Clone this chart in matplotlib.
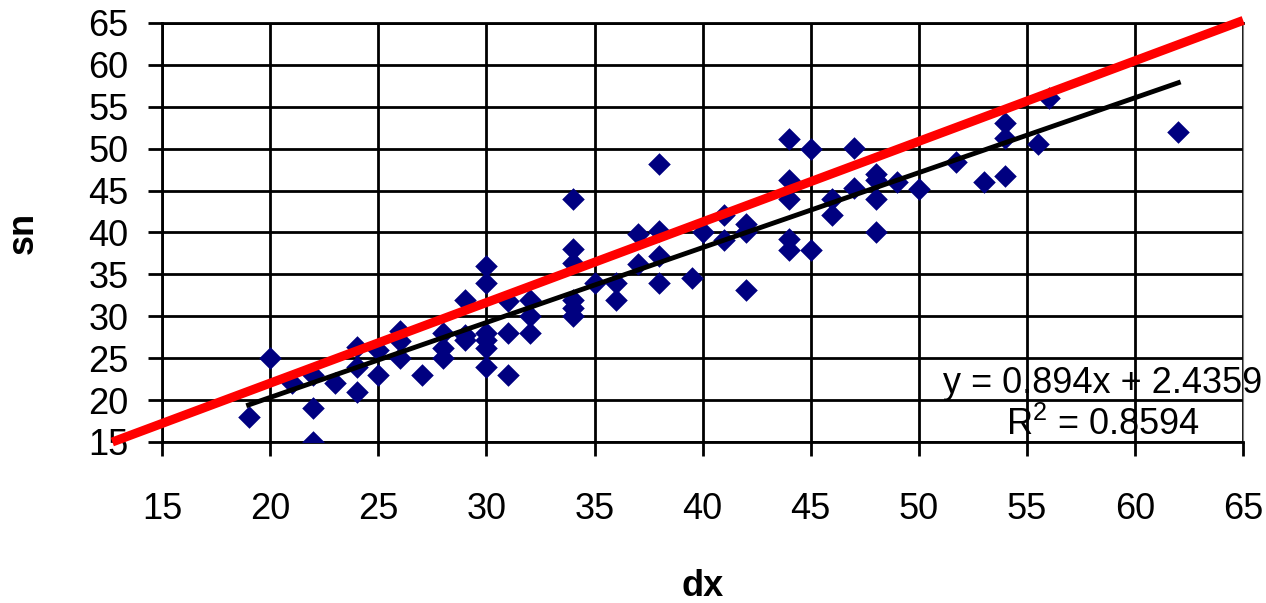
import matplotlib
matplotlib.use("Agg")
import matplotlib.pyplot as plt

plt.rcParams.update({"font.family": ["Liberation Sans", "DejaVu Sans"], "font.size": 26,
                     "mathtext.fontset": "custom", "mathtext.rm": "Liberation Sans",
                     "mathtext.it": "Liberation Sans", "mathtext.bf": "Liberation Sans:bold"})

# data
dx = [19, 20, 21, 22, 22, 22, 23, 24, 24, 24, 25, 25, 26, 26, 26, 27, 28, 28, 28,
      29, 29, 29, 30, 30, 30, 30, 30, 30, 31, 31, 31, 32, 32, 32, 34, 34, 34, 34, 34, 34,
      35, 36, 36, 37, 37, 38, 38, 38, 38, 39.5, 40, 41, 41, 42, 42, 42, 44, 44, 44, 44, 44,
      45, 45, 46, 46, 47, 47, 48, 48, 48, 48, 49, 50, 51.7, 53, 54, 54, 54, 55.5, 56, 62]
sn = [18, 25, 22, 23, 19, 15, 22, 26.3, 24, 21, 26, 23, 28.2, 27, 25, 23, 28, 26.2, 25,
      32, 27.8, 27.2, 36, 34, 28, 27.2, 26.2, 24, 31.8, 28, 23, 32, 30, 28, 44, 38, 36.3, 32, 31, 30,
      34, 34, 32, 39.8, 36.2, 48.2, 40.2, 37.2, 34, 34.6, 40, 42.1, 39.1, 41, 40, 33.1, 51.2, 46.2, 44, 39.2, 37.9,
      50, 37.9, 44, 42.1, 50.1, 45.3, 47, 46.2, 44, 40, 46, 45.2, 48.4, 46, 53, 51.3, 46.7, 50.6, 56, 52]

slope, intercept, r2 = 0.894, 2.4359, 0.8594
trend_x = [min(dx), max(dx)]
ref_x = [12.7, 65]
ref_y = [15, 65.3]

ticks = list(range(15, 70, 5))

fig = plt.figure(figsize=(12.66, 6.03), dpi=100)
ax = fig.add_axes([0.128, 0.267, 0.854, 0.695])

ax.scatter(dx, sn, marker="D", s=11.5 ** 2, color="#000080", linewidths=0, zorder=3)
ax.plot(trend_x, [slope * x + intercept for x in trend_x], color="black", lw=3.5, zorder=4)
ax.plot(ref_x, ref_y, color="#ff0000", lw=6.5, zorder=5, clip_on=False, solid_capstyle="butt")

ax.set_xlim(15, 65)
ax.set_ylim(15, 65)
ax.set_xticks(ticks)
ax.set_yticks(ticks)
ax.grid(True, color="black", lw=2)
ax.set_axisbelow(True)
ax.tick_params(axis="y", direction="out", length=10, width=2, pad=14)
ax.tick_params(axis="x", direction="out", length=10, width=2, pad=26)
for s in ("left", "bottom", "top"):
    ax.spines[s].set_linewidth(2)
ax.spines["right"].set_color("#808080")

ax.set_xlabel("dx", fontweight="bold", labelpad=30)
ax.set_ylabel("sn", fontweight="bold", labelpad=34)

ax.text(65.9, 22.0, f"y = {slope}x + {intercept}", ha="right", va="center", zorder=6)
ax.text(58.5, 17.0, f"R$^2$ = {r2}", ha="center", va="center", zorder=6)

fig.savefig("out.png", dpi=100, facecolor="white")
